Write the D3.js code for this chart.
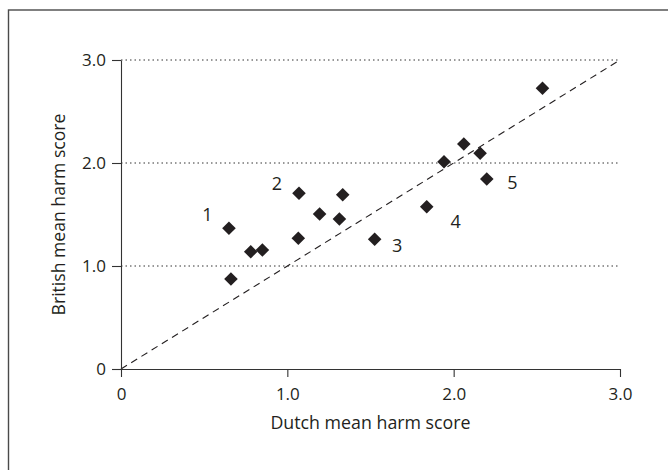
<!DOCTYPE html>
<html>
<head>
<meta charset="utf-8">
<script src="https://cdn.jsdelivr.net/npm/d3@7"></script>
<style>
  html, body { margin: 0; padding: 0; background: #fff; }
  svg { display: block; }
  text { font-family: "Open Sans", sans-serif; fill: #231f20; }
</style>
</head>
<body>
<svg id="chart" width="668" height="470"></svg>
<script>
// ---- data ----
const dutchScores   = [0.649, 0.661, 0.780, 0.850, 1.066, 1.070, 1.194, 1.313, 1.333, 1.525, 1.838, 1.942, 2.061, 2.159, 2.199, 2.534];
const britishScores = [1.366, 0.874, 1.139, 1.155, 1.269, 1.706, 1.505, 1.456, 1.692, 1.259, 1.576, 2.013, 2.184, 2.094, 1.845, 2.725];
const noteLabels = ["1", "2", "3", "4", "5"];
const noteX      = [0.52, 0.937, 1.66, 2.012, 2.353];
const noteY      = [1.495, 1.802, 1.197, 1.430, 1.806];
const tickValues = [0, 1, 2, 3];
const tickLabels = ["0", "1.0", "2.0", "3.0"];
const gridValues = [1, 2, 3];
const xTitle = "Dutch mean harm score";
const yTitle = "British mean harm score";

// ---- layout ----
const svg = d3.select("#chart");
const x = d3.scaleLinear().domain([0, 3]).range([121, 620]);
const y = d3.scaleLinear().domain([0, 3]).range([369, 60]);
const ink = "#231f20";

// frame
svg.append("rect")
  .attr("x", 8.5).attr("y", 10)
  .attr("width", 700).attr("height", 500)
  .attr("fill", "none").attr("stroke", "#4a4a4a").attr("stroke-width", 1.4);

// dotted gridlines
svg.append("g").selectAll("line").data(gridValues).join("line")
  .attr("x1", x(0)).attr("x2", x(3))
  .attr("y1", d => y(d)).attr("y2", d => y(d))
  .attr("stroke", "#333").attr("stroke-width", 1)
  .attr("stroke-dasharray", "1.5,3");

// diagonal line of equality
svg.append("line")
  .attr("x1", x(0)).attr("y1", y(0))
  .attr("x2", x(3)).attr("y2", y(3))
  .attr("stroke", ink).attr("stroke-width", 1.1)
  .attr("stroke-dasharray", "7,5");

const fmt = d => tickLabels[tickValues.indexOf(d)];

// x axis
const gx = svg.append("g").attr("transform", `translate(0,${y(0)})`)
  .call(d3.axisBottom(x).tickValues(tickValues).tickFormat(fmt)
    .tickSize(8).tickSizeOuter(0).tickPadding(7));
// y axis
const gy = svg.append("g").attr("transform", `translate(${x(0)},0)`)
  .call(d3.axisLeft(y).tickValues(tickValues).tickFormat(fmt)
    .tickSize(9).tickSizeOuter(0).tickPadding(6));

[gx, gy].forEach(g => {
  g.select(".domain").attr("stroke", "#333").attr("stroke-width", 1.1);
  g.selectAll(".tick line").attr("stroke", "#333").attr("stroke-width", 1.1);
  g.selectAll(".tick text").attr("fill", ink)
    .style("font-family", "'Open Sans', sans-serif").style("font-size", "17px");
});
gx.selectAll(".tick text").attr("dy", "0.95em");

// axis titles
svg.append("text")
  .attr("x", (x(0) + x(3)) / 2).attr("y", 429)
  .attr("text-anchor", "middle").style("font-size", "17.8px")
  .text(xTitle);
svg.append("text")
  .attr("transform", `translate(65,${(y(0) + y(3)) / 2}) rotate(-90)`)
  .attr("text-anchor", "middle").style("font-size", "17.6px")
  .text(yTitle);

// diamonds
const diamond = d3.symbol().type(d3.symbolSquare).size(92);
svg.append("g").selectAll("path").data(dutchScores).join("path")
  .attr("d", diamond)
  .attr("transform", (d, i) => `translate(${x(d)},${y(britishScores[i])}) rotate(45)`)
  .attr("fill", ink);

// cluster labels
svg.append("g").selectAll("text").data(noteLabels).join("text")
  .attr("x", (d, i) => x(noteX[i]))
  .attr("y", (d, i) => y(noteY[i]))
  .attr("dy", "0.36em")
  .attr("text-anchor", "middle")
  .style("font-size", "18px")
  .text(d => d);
</script>
</body>
</html>
